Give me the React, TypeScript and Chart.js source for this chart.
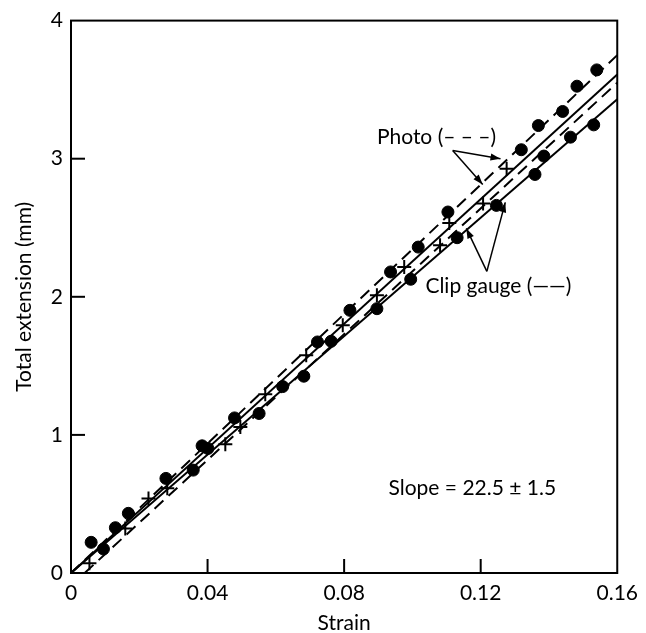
import React, { useEffect, useRef } from "react";
import { Chart, registerables } from "chart.js";

Chart.register(...registerables);

// ---- Data (strain, total extension in mm) ----
const dotStrain = [0.0059, 0.0095, 0.013, 0.0168, 0.0278, 0.0358, 0.0384, 0.0401, 0.0479, 0.0551, 0.062, 0.0682, 0.0722, 0.0762, 0.0817, 0.0896, 0.0936, 0.0995, 0.1017, 0.1104, 0.1131, 0.1246, 0.1319, 0.1359, 0.1369, 0.1385, 0.144, 0.1463, 0.1482, 0.1531, 0.154];
const dotExt = [0.222, 0.174, 0.328, 0.432, 0.685, 0.745, 0.921, 0.902, 1.123, 1.155, 1.35, 1.425, 1.673, 1.678, 1.902, 1.914, 2.18, 2.127, 2.36, 2.614, 2.428, 2.662, 3.065, 2.886, 3.24, 3.019, 3.342, 3.156, 3.525, 3.245, 3.643];

const crossStrain = [0.0054, 0.0159, 0.0227, 0.0282, 0.0452, 0.0496, 0.0569, 0.0689, 0.0796, 0.0896, 0.0976, 0.1081, 0.1108, 0.1207, 0.1276];
const crossExt = [0.07, 0.323, 0.54, 0.613, 0.933, 1.058, 1.294, 1.577, 1.794, 2.011, 2.216, 2.373, 2.534, 2.675, 2.927];

// fitted lines: [start strain, start ext, end strain, end ext]
const photoUpper = [0, 0, 0.16, 3.75];
const photoLower = [0.004, 0, 0.16, 3.55];
const clipUpper = [0, 0, 0.16, 3.61];
const clipLower = [0, 0, 0.16, 3.43];

const xTickValues = [0, 0.04, 0.08, 0.12, 0.16];
const xTickLabels = ["0", "0.04", "0.08", "0.12", "0.16"];
const yTickValues = [0, 1, 2, 3, 4];
const yTickLabels = ["0", "1", "2", "3", "4"];

const xTitle = "Strain";
const yTitle = "Total extension (mm)";
const photoLabel = "Photo (– – –)";
const clipLabel = "Clip gauge (——)";
const slopeLabel = "Slope = 22.5 ± 1.5";

const FONT = "Lato";

function seg(a: number[]) {
  return [
    { x: a[0], y: a[1] },
    { x: a[2], y: a[3] },
  ];
}

const decorPlugin = {
  id: "decor",
  afterDraw(chart: any) {
    const { ctx, chartArea, scales } = chart;
    const xs = scales.x;
    const ys = scales.y;
    const X = (v: number) => xs.getPixelForValue(v);
    const Y = (v: number) => ys.getPixelForValue(v);
    ctx.save();
    ctx.strokeStyle = "#000";
    ctx.fillStyle = "#000";
    ctx.lineWidth = 2;
    // frame
    ctx.strokeRect(chartArea.left, chartArea.top, chartArea.right - chartArea.left, chartArea.bottom - chartArea.top);
    // inward ticks
    const tl = 14;
    xTickValues.forEach((v, i) => {
      if (i === 0 || i === xTickValues.length - 1) return;
      ctx.beginPath();
      ctx.moveTo(X(v), chartArea.bottom);
      ctx.lineTo(X(v), chartArea.bottom - tl);
      ctx.stroke();
    });
    yTickValues.forEach((v, i) => {
      if (i === 0 || i === yTickValues.length - 1) return;
      ctx.beginPath();
      ctx.moveTo(chartArea.left, Y(v));
      ctx.lineTo(chartArea.left + tl, Y(v));
      ctx.stroke();
    });
    // text annotations
    ctx.font = `21px ${FONT}`;
    ctx.textBaseline = "middle";
    ctx.textAlign = "left";
    ctx.fillText(photoLabel, X(0.0896), Y(3.154));
    ctx.fillText(clipLabel, X(0.1038), Y(2.076));
    ctx.fillText(slopeLabel, X(0.093), Y(0.615));
    // arrows
    const arrow = (x0: number, y0: number, x1: number, y1: number) => {
      const px0 = X(x0), py0 = Y(y0), px1 = X(x1), py1 = Y(y1);
      ctx.lineWidth = 1.5;
      ctx.beginPath();
      ctx.moveTo(px0, py0);
      ctx.lineTo(px1, py1);
      ctx.stroke();
      const ang = Math.atan2(py1 - py0, px1 - px0);
      const L = 10, W = 3.5;
      ctx.beginPath();
      ctx.moveTo(px1, py1);
      ctx.lineTo(px1 - L * Math.cos(ang) + W * Math.sin(ang), py1 - L * Math.sin(ang) - W * Math.cos(ang));
      ctx.lineTo(px1 - L * Math.cos(ang) - W * Math.sin(ang), py1 - L * Math.sin(ang) + W * Math.cos(ang));
      ctx.closePath();
      ctx.fill();
    };
    arrow(0.1118, 3.06, 0.1258, 3.0);
    arrow(0.1118, 3.06, 0.1206, 2.814);
    arrow(0.1218, 2.184, 0.1158, 2.495);
    arrow(0.1218, 2.184, 0.1272, 2.684);
    ctx.restore();
  },
};

export default function App() {
  const ref = useRef<HTMLCanvasElement>(null);
  useEffect(() => {
    document.body.style.margin = "0";
    const lineDs = (a: number[], dashed: boolean) => ({
      type: "line" as const,
      data: seg(a),
      borderColor: "#000",
      borderWidth: 2,
      borderDash: dashed ? [12, 7] : [],
      pointRadius: 0,
      fill: false,
    });
    const chart = new Chart(ref.current!, {
      type: "scatter",
      data: {
        datasets: [
          lineDs(photoUpper, true),
          lineDs(photoLower, true),
          lineDs(clipUpper, false),
          lineDs(clipLower, false),
          {
            type: "scatter",
            data: dotStrain.map((x, i) => ({ x, y: dotExt[i] })),
            pointStyle: "circle",
            pointRadius: 6,
            backgroundColor: "#000",
            borderColor: "#000",
          },
          {
            type: "scatter",
            data: crossStrain.map((x, i) => ({ x, y: crossExt[i] })),
            pointStyle: "cross",
            pointRadius: 7,
            borderWidth: 2,
            borderColor: "#000",
          },
        ] as any,
      },
      options: {
        animation: false,
        responsive: false,
        layout: { padding: { top: 20, right: 14, left: 0, bottom: 0 } },
        plugins: { legend: { display: false }, tooltip: { enabled: false } },
        scales: {
          x: {
            type: "linear",
            min: 0,
            max: 0.16,
            afterBuildTicks: (s: any) => {
              s.ticks = xTickValues.map((v) => ({ value: v }));
            },
            afterFit: (s: any) => {
              s.height = 60;
            },
            ticks: {
              callback: (v: any) => xTickLabels[xTickValues.indexOf(Number(v))] ?? "",
              color: "#000",
              font: { family: FONT, size: 21 },
              padding: 8,
              maxRotation: 0,
            },
            grid: { display: false, drawTicks: false },
            border: { display: false },
            title: { display: true, text: xTitle, color: "#000", font: { family: FONT, size: 21 }, padding: { top: 2, bottom: -3 } },
          },
          y: {
            type: "linear",
            min: 0,
            max: 4,
            afterBuildTicks: (s: any) => {
              s.ticks = yTickValues.map((v) => ({ value: v }));
            },
            afterFit: (s: any) => {
              s.width = 71;
            },
            ticks: {
              callback: (v: any) => yTickLabels[yTickValues.indexOf(Number(v))] ?? "",
              color: "#000",
              font: { family: FONT, size: 21 },
              padding: 8,
            },
            grid: { display: false, drawTicks: false },
            border: { display: false },
            title: { display: true, text: yTitle, color: "#000", font: { family: FONT, size: 21 }, padding: { top: 12, bottom: 0 } },
          },
        },
      },
      plugins: [decorPlugin],
    });
    return () => chart.destroy();
  }, []);
  return (
    <div style={{ width: 646, height: 633 }}>
      <canvas ref={ref} width={646} height={633} style={{ display: "block" }} />
    </div>
  );
}
